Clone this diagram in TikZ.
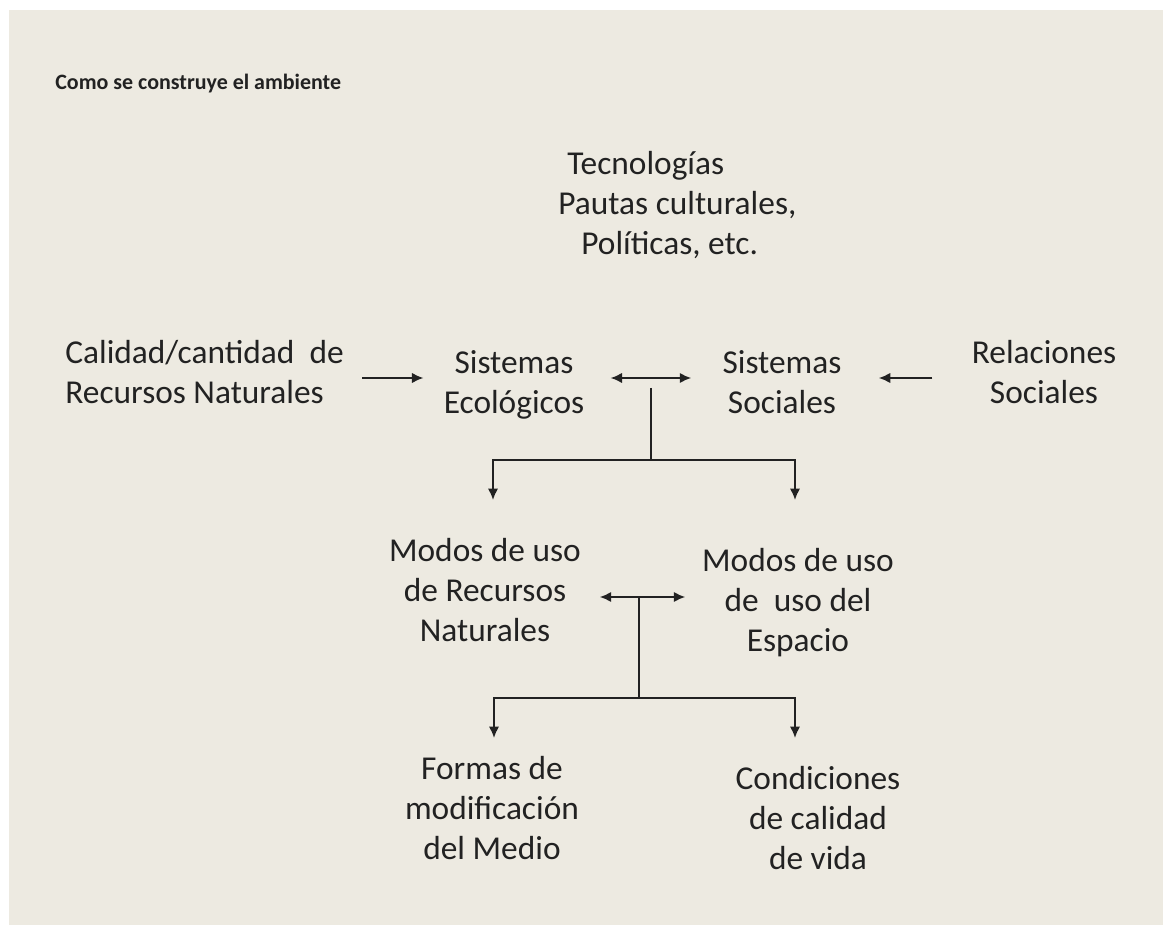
\documentclass[tikz,border=0pt]{standalone}
\usepackage{fontspec}
\setmainfont{Carlito}
\usetikzlibrary{arrows.meta, calc, positioning}
\definecolor{paper}{RGB}{237,234,225}
\definecolor{ink}{RGB}{34,34,34}
\tikzset{
  txt/.style={text=ink, align=center, inner sep=0pt, font=\fontsize{19}{22.8}\selectfont},
  ln/.style={draw=ink, line width=1.1pt},
  arr/.style={ln, -{Latex[length=2.3mm,width=2.1mm]}},
  dbl/.style={ln, {Latex[length=2.3mm,width=2.1mm]}-{Latex[length=2.3mm,width=2.1mm]}}
}

\begin{document}
\begin{tikzpicture}[x=0.02cm, y=-0.02cm]
                        % page and slide background
                        \fill[white] (0,0) rectangle (1163,925);
                        \fill[paper] (9,10) rectangle (1163,925);
                        \useasboundingbox (0,0) rectangle (1163,925);

                        \node[anchor=west, inner sep=0pt, text=ink, font=\bfseries\fontsize{12.5}{15}\selectfont] (titulo) at (55,84) {Como se construye el ambiente};

                        \node[txt, align=left, anchor=west] (tec) at (558,205) {\hspace*{0.18cm}Tecnologías\\Pautas culturales,\\\hspace*{0.46cm}Políticas, etc.};

                        \node[txt, align=left, anchor=west] (calidad) at (65,372) {Calidad/cantidad~ de\\Recursos Naturales};
                        \node[txt] (ecol) at (514,385) {Sistemas\\Ecológicos};
                        \node[txt] (soc) at (782,382) {Sistemas\\Sociales};
                        \node[txt] (rel) at (1044,372) {Relaciones\\Sociales};

                        \node[txt] (modrn) at (485,590) {Modos de uso\\de Recursos\\Naturales};
                        \node[txt] (modesp) at (798,603) {Modos de uso\\de~ uso del\\Espacio};

                        \node[txt] (formas) at (492,808) {Formas de\\modificación\\del Medio};
                        \node[txt] (cond) at (818,818) {Condiciones\\de calidad\\de vida};

                        \coordinate (stem1) at (651,378);
                        \coordinate (fork1) at (651,460);
                        \coordinate (tipa) at (493,500);
                        \coordinate (tipb) at (795,500);
                        \coordinate (stem2) at (639,597);
                        \coordinate (fork2) at (639,698);
                        \coordinate (tipc) at (494,738);
                        \coordinate (tipd) at (795,738);

                        \draw[arr, shorten <=0.36cm, shorten >=0.4cm] (calidad.east |- stem1) -- (ecol.west |- stem1);
                        \draw[dbl, shorten <=0.52cm, shorten >=0.62cm] (ecol.east |- stem1) -- (soc.west |- stem1);
                        \draw[arr, shorten <=0.78cm, shorten >=0.74cm] (rel.west |- stem1) -- (soc.east |- stem1);

                        \draw[ln] ($(stem1)+(0,10)$) -- (fork1);
                        \draw[arr] (fork1) -| (tipa);
                        \draw[arr] (fork1) -| (tipb);

                        \draw[dbl, shorten <=0.37cm, shorten >=0.33cm] (modrn.east |- stem2) -- (modesp.west |- stem2);
                        \draw[ln] (stem2) -- (fork2);
                        \draw[arr] (fork2) -| (tipc);
                        \draw[arr] (fork2) -| (tipd);
                    \end{tikzpicture}
\end{document}
